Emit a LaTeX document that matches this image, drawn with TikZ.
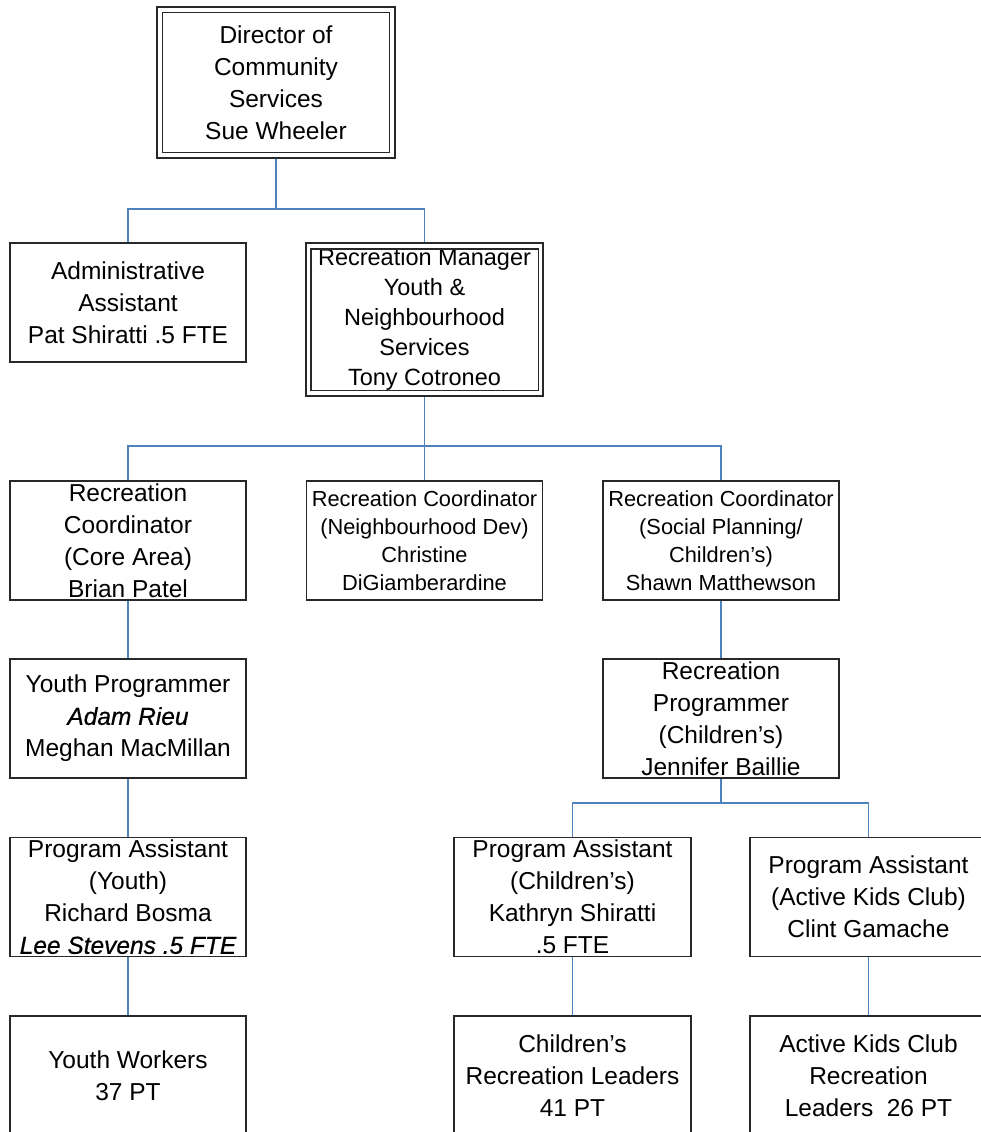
\documentclass[tikz,border=0pt]{standalone}
\usepackage{fontspec}
\setmainfont{Liberation Sans}
\definecolor{connblue}{RGB}{79,129,189}
\definecolor{boxline}{RGB}{40,40,40}
\newcommand{\medit}[1]{{\itshape\addfontfeature{FakeBold=0.7}#1}}
\begin{document}
\begin{tikzpicture}[x=1pt,y=-1pt,
  orgbox/.style={draw=boxline, line width=1.3pt, fill=white, minimum width=236pt, minimum height=119pt,
    align=center, inner sep=0pt, font=\fontsize{24.5}{32}\selectfont},
  smallbox/.style={orgbox, font=\fontsize{21.8}{28}\selectfont},
  conn/.style={draw=connblue, line width=1.3pt}]
\useasboundingbox (0,0) rectangle (980,1132);
\fill[white] (0,0) rectangle (980,1132);

% branch points
\coordinate (b1) at (276,209);
\coordinate (b2) at (424.5,446);
\coordinate (b3) at (721,803);

% level 1
\node[orgbox, minimum width=238pt, minimum height=151pt] (dir) at (276,82.5)
  {Director of\\Community\\Services\\Sue Wheeler};
\draw[boxline, line width=1.3pt] ([shift={(6pt,-6pt)}]dir.north west) rectangle ([shift={(-6pt,6pt)}]dir.south east);

% level 2
\node[orgbox] (admin) at (128,302.5) {Administrative\\Assistant\\Pat Shiratti .5 FTE};
\node[orgbox, minimum width=237pt, minimum height=153pt, font=\fontsize{23.5}{30}\selectfont] (mgr) at (424.5,319.5)
  {Recreation Manager\\Youth \&\\Neighbourhood\\Services\\Tony Cotroneo};
\draw[boxline, line width=1.3pt] ([shift={(5.5pt,-6.5pt)}]mgr.north west) rectangle ([shift={(-5.5pt,6.5pt)}]mgr.south east);

% level 3
\node[orgbox] (core) at (128,540.5) {Recreation\\Coordinator\\(Core Area)\\Brian Patel};
\node[smallbox] (neigh) at (424.5,540.5) {Recreation Coordinator\\(Neighbourhood Dev)\\Christine\\DiGiamberardine};
\node[smallbox] (shawn) at (721,540.5) {Recreation Coordinator\\(Social Planning/\\Children’s)\\Shawn Matthewson};

% level 4
\node[orgbox] (ytp) at (128,718.5) {Youth Programmer\\\medit{Adam Rieu}\\Meghan MacMillan};
\node[orgbox] (rp) at (721,718.5) {Recreation\\Programmer\\(Children’s)\\Jennifer Baillie};

% level 5
\node[orgbox] (pay) at (128,897) {Program Assistant\\(Youth)\\Richard Bosma\\\medit{Lee Stevens .5 FTE}};
\node[orgbox, minimum width=237pt] (pac) at (572.5,897) {Program Assistant\\(Children’s)\\Kathryn Shiratti\\.5 FTE};
\node[orgbox, minimum width=237pt] (paa) at (868.5,897) {Program Assistant\\(Active Kids Club)\\Clint Gamache};

% level 6
\node[orgbox] (yw) at (128,1075.5) {Youth Workers\\37 PT};
\node[orgbox, minimum width=237pt] (crl) at (572.5,1075.5) {Children’s\\Recreation Leaders\\41 PT};
\node[orgbox, minimum width=237pt] (akl) at (868.5,1075.5) {Active Kids Club\\Recreation\\Leaders\hspace{0.55em}26 PT};

% connector lines
\draw[conn] (dir.south) -- (b1);
\draw[conn] (b1) -| (admin.north);
\draw[conn] (b1) -| (mgr.north);
\draw[conn] (mgr.south) -- (b2);
\draw[conn] (b2) -| (core.north);
\draw[conn] (b2) -- (neigh.north);
\draw[conn] (b2) -| (shawn.north);
\draw[conn] (core.south) -- (ytp.north);
\draw[conn] (ytp.south) -- (pay.north);
\draw[conn] (pay.south) -- (yw.north);
\draw[conn] (shawn.south) -- (rp.north);
\draw[conn] (rp.south) -- (b3);
\draw[conn] (b3) -| (pac.north);
\draw[conn] (b3) -| (paa.north);
\draw[conn] (pac.south) -- (crl.north);
\draw[conn] (paa.south) -- (akl.north);
\end{tikzpicture}
\end{document}
